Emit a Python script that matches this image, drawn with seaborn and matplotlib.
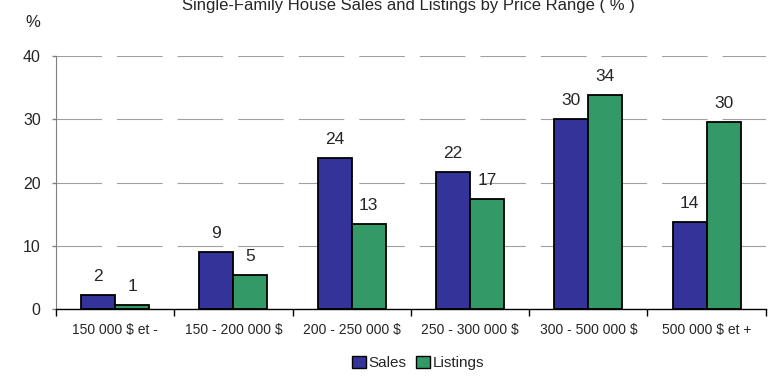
import matplotlib.pyplot as plt
import seaborn as sns
import pandas as pd
import numpy as np

categories = ["150 000 $ et -", "150 - 200 000 $", "200 - 250 000 $",
              "250 - 300 000 $", "300 - 500 000 $", "500 000 $ et +"]
sales = [2.2, 9.0, 23.9, 21.7, 30.0, 13.7]
listings = [0.7, 5.4, 13.4, 17.4, 33.8, 29.6]
series = ["Sales", "Listings"]
colors = {"Sales": "#333399", "Listings": "#339966"}

df = pd.DataFrame({"range": categories * 2,
                   "series": ["Sales"] * 6 + ["Listings"] * 6,
                   "value": sales + listings})

sns.set_style("white")
plt.rcParams['font.family'] = ['Liberation Sans', 'DejaVu Sans']

fig = plt.figure(figsize=(7.69, 3.76), dpi=100)
ax = fig.add_axes([0.0728, 0.178, 0.923, 0.673])

sns.barplot(data=df, x="range", y="value", hue="series", hue_order=series,
            palette=colors, width=0.575, gap=0, edgecolor="black",
            linewidth=1.3, saturation=1, ax=ax, zorder=3)

for c in ax.containers:
    ax.bar_label(c, fmt="%.0f", padding=8, fontsize=12.5)

ax.set_ylim(0, 40)
ax.set_xlim(-0.5, 5.5)
ax.set_yticks([0, 10, 20, 30, 40])
ax.yaxis.grid(True, color="#a0a0a0", linewidth=0.8,
              linestyle=(0, (41, 13.5)), zorder=0)
ax.set_axisbelow(True)

ax.set_xticks(np.arange(-0.5, 6, 1), minor=True)
ax.tick_params(axis='x', which='major', length=0, pad=10, labelsize=10)
ax.tick_params(axis='x', which='minor', length=5, width=1, color="black",
               direction='out', bottom=True)
ax.tick_params(axis='y', length=3, width=1, color="#808080",
               direction='out', left=True, pad=8, labelsize=11.5)

sns.despine(ax=ax)
ax.spines['left'].set_color("#808080")
ax.spines['bottom'].set_color("black")
ax.spines['bottom'].set_linewidth(1)

ax.set_xlabel("")
ax.set_ylabel("")

leg = ax.legend(loc="center", bbox_to_anchor=(0.51, -0.213), ncol=2,
                frameon=False, fontsize=11, handlelength=0.9,
                handleheight=0.9, handletextpad=0.2, columnspacing=0.6)
for h in leg.legend_handles:
    h.set_edgecolor("black")
    h.set_linewidth(1)

fig.text(0.531, 0.973, "Single-Family House Sales and Listings by Price Range ( % )",
         ha="center", va="baseline", fontsize=12)
fig.text(0.043, 0.94, "%", ha="center", va="center", fontsize=12)

fig.savefig("out.png", dpi=100)
